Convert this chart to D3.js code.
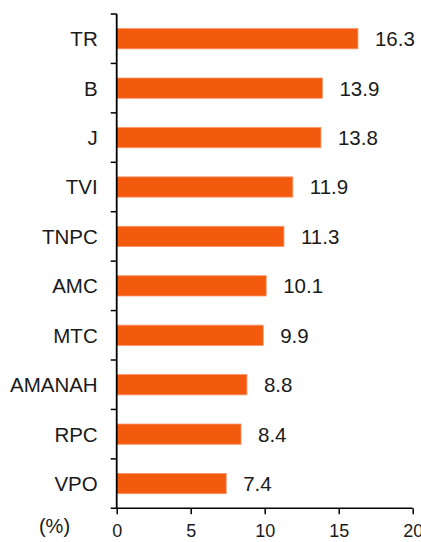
<!DOCTYPE html>
<html><head><meta charset="utf-8">
<script src="https://cdn.jsdelivr.net/npm/d3@7"></script>
<style>body{margin:0;background:#fff;} text{font-family:"Liberation Sans",Arial,sans-serif;fill:#1a1a1a;}</style>
</head><body>
<svg id="c" width="421" height="542"></svg>
<script>
const categories = ["TR","B","J","TVI","TNPC","AMC","MTC","AMANAH","RPC","VPO"];
const values = [16.3,13.9,13.8,11.9,11.3,10.1,9.9,8.8,8.4,7.4];
const xTicks = [0,5,10,15,20];
const unitLabel = "(%)";

const svg = d3.select("#c");
const mLeft = 116.7, mRight = 412.7, mTop = 14, mBottom = 508.3;
const x = d3.scaleLinear().domain([0,20]).range([mLeft,mRight]);
const y = d3.scaleBand().domain(categories).range([mTop,mBottom]).paddingInner(0.59).paddingOuter(0.295);

svg.selectAll("rect.bar").data(values).enter().append("rect")
  .attr("x", x(0)).attr("y",(d,i)=>y(categories[i]))
  .attr("width", d=>x(d)-x(0)).attr("height", y.bandwidth())
  .attr("fill","#F45A0E").attr("stroke","#F8976A").attr("stroke-width",0.8);

svg.selectAll("text.val").data(values).enter().append("text")
  .attr("x", d=>x(d)+17).attr("y",(d,i)=>y(categories[i])+y.bandwidth()/2)
  .attr("dy","0.36em").attr("font-size","20.5px").text(d=>d.toFixed(1));

svg.selectAll("text.cat").data(categories).enter().append("text")
  .attr("x", mLeft-19).attr("y", d=>y(d)+y.bandwidth()/2).attr("dy","0.36em")
  .attr("text-anchor","end").attr("font-size","20.5px").text(d=>d);

// y axis line and boundary ticks
const step = y.step();
svg.append("line").attr("x1",mLeft).attr("x2",mLeft).attr("y1",mTop).attr("y2",mBottom)
  .attr("stroke","#000").attr("stroke-width",1.8);
const bounds = d3.range(categories.length).map(i=>mTop+i*step);
svg.selectAll("line.yt").data(bounds).enter().append("line")
  .attr("x1",mLeft-6).attr("x2",mLeft).attr("y1",d=>d).attr("y2",d=>d)
  .attr("stroke","#000").attr("stroke-width",1.5);

// x axis
const gx = svg.append("g").attr("transform",`translate(0,${mBottom})`)
  .call(d3.axisBottom(x).tickValues(xTicks).tickSize(6).tickSizeOuter(0).tickPadding(10));
gx.select(".domain").attr("stroke","#000").attr("stroke-width",1.5).attr("d",`M${mLeft-6},0H${mRight}`);
gx.selectAll(".tick line").attr("stroke","#000").attr("stroke-width",1.5);
gx.selectAll(".tick text").attr("font-size","18px").attr("font-family","Liberation Sans, Arial, sans-serif").attr("fill","#1a1a1a");

svg.append("text").attr("x",54.5).attr("y",533).attr("text-anchor","middle").attr("font-size","20px").text(unitLabel);
</script>
</body></html>
